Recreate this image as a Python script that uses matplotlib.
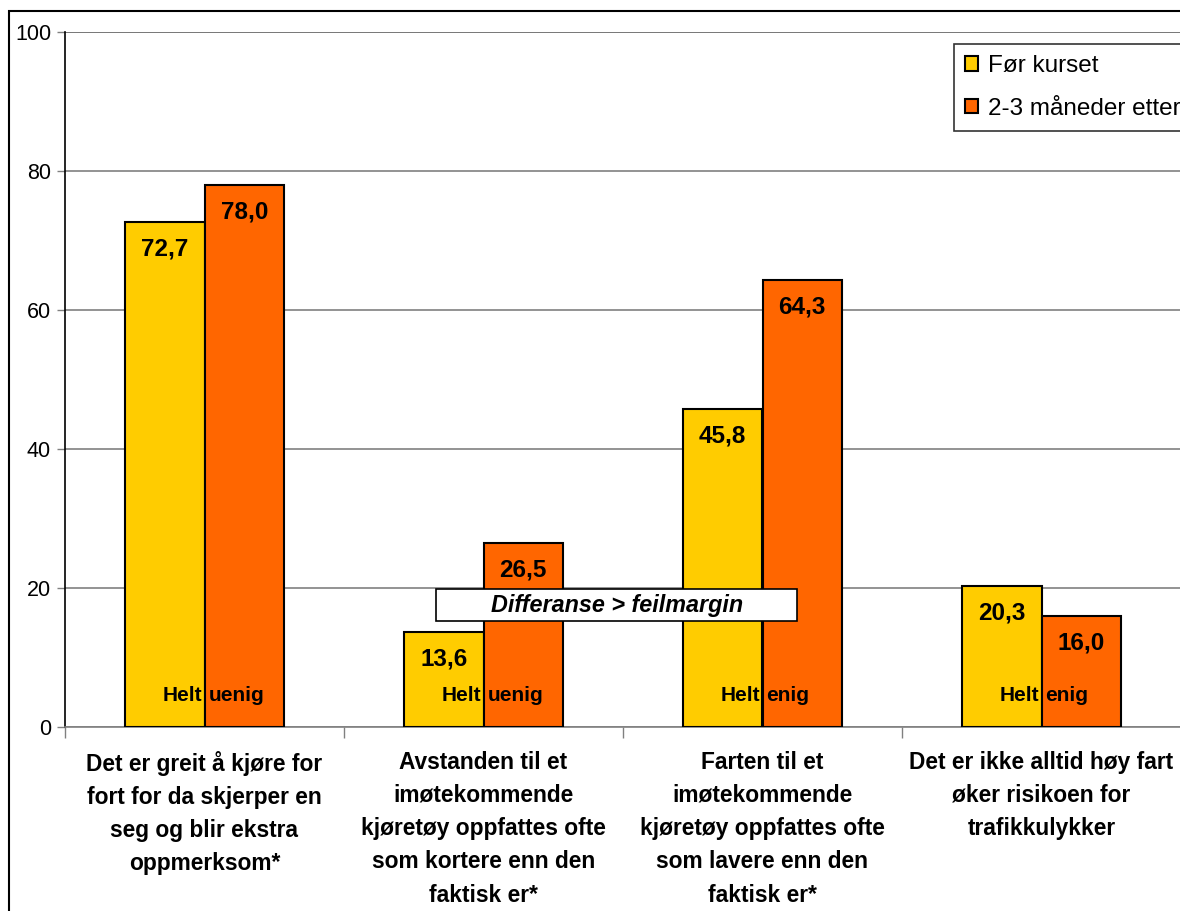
import matplotlib.pyplot as plt
import numpy as np
from matplotlib.patches import Patch, Rectangle
from matplotlib.ticker import FixedLocator

plt.rcParams['font.family'] = ['Liberation Sans', 'DejaVu Sans']

# Spørsmål og andel (%) før og etter kurset
kategorier = [
    "Det er greit å kjøre for\nfort for da skjerper en\nseg og blir ekstra\noppmerksom*",
    "Avstanden til et\nimøtekommende\nkjøretøy oppfattes ofte\nsom kortere enn den\nfaktisk er*",
    "Farten til et\nimøtekommende\nkjøretøy oppfattes ofte\nsom lavere enn den\nfaktisk er*",
    "Det er ikke alltid høy fart\nøker risikoen for\ntrafikkulykker",
]
for_kurset = [72.7, 13.6, 45.8, 20.3]
etter_kurset = [78.0, 26.5, 64.3, 16.0]
svar = ["uenig", "uenig", "enig", "enig"]
serier = ["Før kurset", "2-3 måneder etter"]

GUL = "#FFCC00"
ORANSJE = "#FF6600"

W, H = 1180, 911
fig = plt.figure(figsize=(W / 100, H / 100), dpi=100)
ax = fig.add_axes([65 / W, 184 / H, 1116 / W, 695 / H])

x = np.arange(len(kategorier))
bw = 0.285

b1 = ax.bar(x - bw / 2, for_kurset, bw, color=GUL, edgecolor="black", linewidth=1.5, zorder=3)
b2 = ax.bar(x + bw / 2, etter_kurset, bw, color=ORANSJE, edgecolor="black", linewidth=1.5, zorder=3)

# verdier inne i toppen av stolpene
for bars, verdier in [(b1, for_kurset), (b2, etter_kurset)]:
    for bar, v in zip(bars, verdier):
        ax.annotate(f"{v:.1f}".replace(".", ","),
                    (bar.get_x() + bar.get_width() / 2, v),
                    xytext=(0, -27), textcoords="offset pixels",
                    ha="center", va="center", fontsize=17.5, fontweight="bold", zorder=5)

# "Helt uenig" / "Helt enig" nederst i stolpene
for xi, s in zip(x, svar):
    ax.annotate("Helt", (xi, 0), xytext=(-2, 26), textcoords="offset pixels",
                ha="right", va="baseline", fontsize=15, fontweight="bold", zorder=5)
    ax.annotate(s, (xi, 0), xytext=(4, 26), textcoords="offset pixels",
                ha="left", va="baseline", fontsize=15, fontweight="bold", zorder=5)

ax.set_xlim(-0.5, len(kategorier) - 0.5)
ax.set_ylim(0, 100)
ax.set_yticks(np.arange(0, 101, 20))
ax.yaxis.grid(True, color="#808080", linewidth=1.2, zorder=0)
ax.tick_params(axis="y", labelsize=15.5, length=6, width=1, color="#808080", pad=4)

ax.set_xticks(x)
ax.set_xticklabels(kategorier, fontsize=16.4, fontweight="bold", linespacing=1.57)
ax.xaxis.set_minor_locator(FixedLocator(np.arange(-0.5, len(kategorier), 1.0)))
ax.tick_params(axis="x", which="major", length=0, pad=17)
ax.tick_params(axis="x", which="minor", length=8, width=1, color="#808080")

for side in ["top", "right"]:
    ax.spines[side].set_visible(False)
ax.spines["left"].set_color("black")
ax.spines["left"].set_linewidth(1.2)
ax.spines["bottom"].set_color("#808080")
ax.spines["bottom"].set_linewidth(1.2)
ax.axhline(100, color="#404040", linewidth=1.2, zorder=1)

# boks for signifikant differanse
ax.add_patch(Rectangle((0.83, 15.25), 1.294, 4.6, facecolor="white",
                       edgecolor="black", linewidth=1.2, zorder=6))
ax.text(1.477, 17.55, "Differanse > feilmargin", ha="center", va="center",
        fontsize=16.8, fontweight="bold", fontstyle="italic", zorder=7)

handles = [Patch(facecolor=GUL, edgecolor="black", linewidth=1.5),
           Patch(facecolor=ORANSJE, edgecolor="black", linewidth=1.5)]
leg = fig.legend(handles, serier, loc="upper left",
                 bbox_to_anchor=(954 / W, 1 - 44 / H), borderaxespad=0,
                 fontsize=17.5, frameon=True, fancybox=False, edgecolor="black",
                 handlelength=0.55, handleheight=0.55, handletextpad=0.4,
                 labelspacing=0.85, borderpad=0.45)
leg.get_frame().set_linewidth(1.2)

# ytre ramme rundt diagrammet
fig.add_artist(Rectangle((9 / W, -0.1), 1.2, 1.1 - 11 / H, transform=fig.transFigure,
                         fill=False, edgecolor="black", linewidth=1.5))

fig.savefig("out.png", dpi=100)
